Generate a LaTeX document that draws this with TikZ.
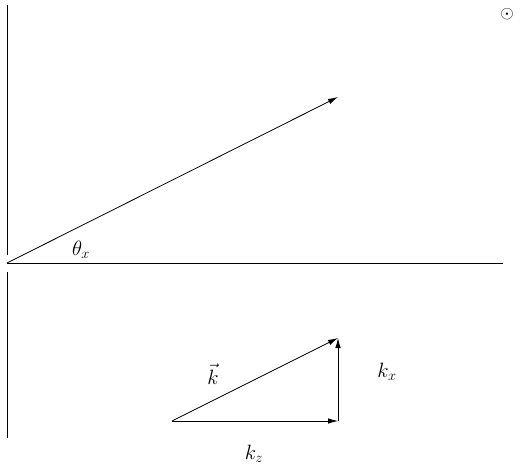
\documentclass[tikz,border=0pt]{standalone}
\usetikzlibrary{arrows.meta}
\begin{document}
\begin{tikzpicture}[x=1pt,y=-1pt,line width=0.8pt,font=\huge,inner sep=0.5pt,
            >={Latex[length=10pt,width=5.5pt]}]
            \useasboundingbox (0,0) rectangle (521,465);
            \coordinate (o) at (7,263);
            \coordinate (top) at (7,5);
            \coordinate (up) at (7,255);
            \coordinate (low) at (7,272);
            \coordinate (bot) at (7,438);
            \coordinate (r) at (503,263);
            \coordinate (tip) at (338,97);
            \draw (top) -- (up);
            \draw (low) -- (bot);
            \draw (o) -- (r);
            \draw[->] (o) -- (tip);
            \node (th) at (81,250) {\(\theta_x\)};
            \node[font=\LARGE] (dot) at (507,14) {\(\odot\)};
            \coordinate (a) at (172,421);
            \coordinate (b) at (338,421);
            \coordinate (c) at (338,338);
            \draw[->] (a) -- (c);
            \draw[->] (a) -- (b);
            \draw[->] (b) -- (c);
            \node (k) at (213,374) {\(\vec{k}\)};
            \node (kx) at (387,372) {\(k_x\)};
            \node (kz) at (254,454) {\(k_z\)};
        \end{tikzpicture}
\end{document}
